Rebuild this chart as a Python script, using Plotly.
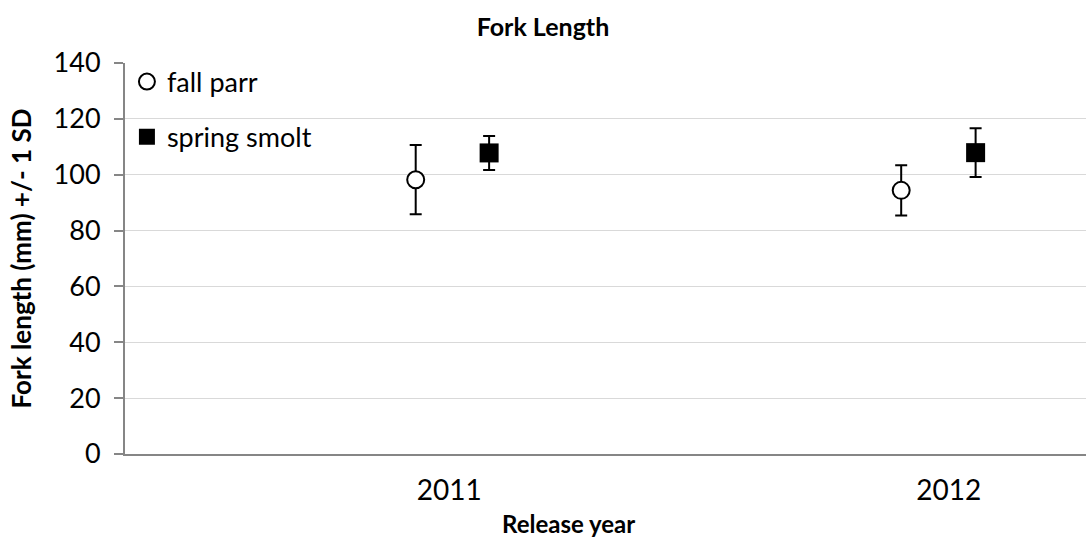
import plotly.graph_objects as go

# Release timing in decimal years (points sit either side of the year tick)
release_years = [2011, 2012]
parr_x = [2010.933, 2011.905]
smolt_x = [2011.080, 2012.054]

# Mean fork length (mm) and one standard deviation
parr_mean = [98.2, 94.4]
parr_sd = [12.4, 9.0]
smolt_mean = [107.8, 107.9]
smolt_sd = [6.1, 8.7]

y_ticks = [0, 20, 40, 60, 80, 100, 120, 140]

FONT = "Lato, Carlito, 'Liberation Sans', sans-serif"

fig = go.Figure()

fig.add_trace(go.Scatter(
    x=parr_x, y=parr_mean, mode="markers", name="fall parr",
    legendgroup="parr",
    marker=dict(symbol="circle", size=17, color="white",
                line=dict(color="black", width=2)),
    error_y=dict(type="data", array=parr_sd, visible=True,
                 color="black", thickness=2, width=6),
))

fig.add_trace(go.Scatter(
    x=smolt_x, y=smolt_mean, mode="markers", name="spring smolt",
    legendgroup="smolt",
    marker=dict(symbol="square", size=19, color="black",
                line=dict(color="black", width=0)),
    error_y=dict(type="data", array=smolt_sd, visible=True,
                 color="black", thickness=2, width=6),
))

fig.update_layout(
    width=1086, height=539,
    margin=dict(l=125, r=0, t=63, b=85, autoexpand=False),
    paper_bgcolor="white", plot_bgcolor="white",
    font=dict(family=FONT, size=27, color="black"),
    title=dict(text="<b>Fork Length</b>", x=0.5, xanchor="center",
               y=0.95, yanchor="middle", font=dict(size=25)),
    showlegend=True,
    legend=dict(x=0.002, y=1.014, xanchor="left", yanchor="top",
                bgcolor="rgba(0,0,0,0)", font=dict(size=27),
                traceorder="grouped", tracegroupgap=17,
                itemwidth=30),
    annotations=[dict(
        text="<b>Release year</b>", xref="paper", yref="paper",
        x=(568 - 125) / 961, y=-69 / 391, xanchor="center", yanchor="middle",
        showarrow=False, font=dict(size=24),
    )],
)

fig.update_xaxes(
    range=[2010.351, 2012.275],
    tickmode="array", tickvals=release_years,
    ticktext=[str(y) for y in release_years],
    showgrid=False, zeroline=False,
    showline=True, linecolor="#868686", linewidth=2,
    ticks="", tickfont=dict(size=28), ticklabelstandoff=10,
)

fig.update_yaxes(
    range=[0, 140], tickmode="array", tickvals=y_ticks,
    showgrid=True, gridcolor="#d9d9d9", gridwidth=1,
    zeroline=False,
    showline=True, linecolor="#868686", linewidth=2,
    ticks="outside", ticklen=9, tickcolor="#868686", tickwidth=2,
    tickfont=dict(size=27), ticklabelstandoff=8,
    title=dict(text="<b>Fork length (mm) +/- 1 SD</b>", font=dict(size=26),
               standoff=15),
)

fig.write_html("out.html")
